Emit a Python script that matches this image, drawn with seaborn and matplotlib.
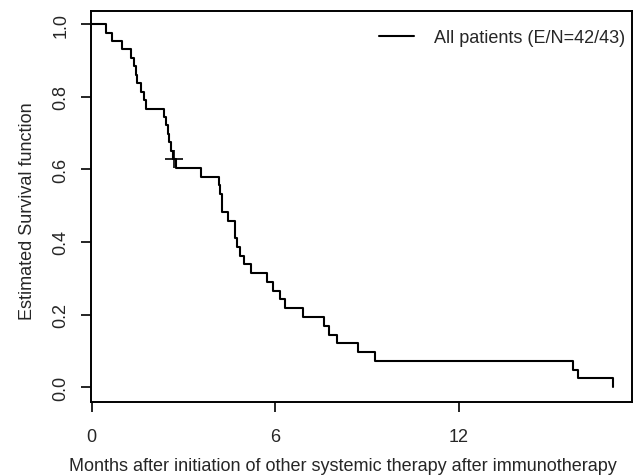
import numpy as np
import pandas as pd
import matplotlib
matplotlib.use("Agg")
import matplotlib.pyplot as plt
import seaborn as sns

# months from start of next systemic therapy; status 1 = event, 0 = censored
months = [0.46, 0.67, 1.00, 1.28, 1.37, 1.44, 1.47, 1.60, 1.70, 1.77,
          2.35, 2.43, 2.48, 2.54, 2.59, 2.65, 2.70, 2.76, 3.59,
          4.16, 4.21, 4.25, 4.27, 4.46, 4.68, 4.70, 4.76, 4.85, 4.98,
          5.20, 5.72, 5.94, 6.16, 6.31, 6.92, 7.60, 7.76, 8.02, 8.71,
          9.26, 15.74, 15.90, 17.05]
status = [1, 1, 1, 1, 1, 1, 1, 1, 1, 1,
          1, 1, 1, 1, 1, 1, 0, 1, 1,
          1, 1, 1, 1, 1, 1, 1, 1, 1, 1,
          1, 1, 1, 1, 1, 1, 1, 1, 1, 1,
          1, 1, 1, 1]

legend_label = "All patients (E/N=42/43)"
x_ticks = [0, 6, 12]
y_ticks = [0.0, 0.2, 0.4, 0.6, 0.8, 1.0]


def kaplan_meier(t, d):
    t = np.asarray(t, dtype=float)
    d = np.asarray(d, dtype=int)
    order = np.argsort(t, kind="stable")
    t, d = t[order], d[order]
    n = len(t)
    s = 1.0
    step_t, step_s = [0.0], [1.0]
    cens_t, cens_s = [], []
    for ti, di in zip(t, d):
        if di == 1:
            s *= (n - 1) / n
            step_t.append(ti)
            step_s.append(s)
        else:
            cens_t.append(ti)
            cens_s.append(s)
        n -= 1
    return (pd.DataFrame({"time": step_t, "surv": step_s}),
            pd.DataFrame({"time": cens_t, "surv": cens_s}))


def main():
    sns.set_style("ticks")
    plt.rcParams["font.family"] = ["Liberation Sans", "DejaVu Sans"]

    steps, censored = kaplan_meier(months, status)

    fig = plt.figure(figsize=(6.33, 4.77), dpi=100)
    ax = fig.add_axes([0.1438, 0.1551, 0.8546, 0.8197])

    sns.lineplot(data=steps, x="time", y="surv", drawstyle="steps-post",
                 color="black", linewidth=1.5, estimator=None, sort=False,
                 label=legend_label, ax=ax)
    sns.scatterplot(data=censored, x="time", y="surv", marker="+", s=180,
                    color="black", linewidth=1.2, ax=ax, legend=False)

    ax.set_xlim(-0.02, 17.66)
    ax.set_ylim(-0.041, 1.036)
    ax.set_xticks(x_ticks)
    ax.set_yticks(y_ticks)
    ax.set_yticklabels([f"{v:.1f}" for v in y_ticks], rotation=90, va="center")
    ax.tick_params(length=7.5, width=1.2, labelsize=13, color="black")
    ax.tick_params(axis="x", pad=11)
    ax.tick_params(axis="y", pad=8)
    for sp in ax.spines.values():
        sp.set_visible(True)
        sp.set_linewidth(1.4)
        sp.set_color("black")

    ax.set_xlabel("Months after initiation of other systemic therapy after immunotherapy",
                  fontsize=13)
    ax.set_ylabel("Estimated Survival function", fontsize=13)
    ax.xaxis.set_label_coords(0.465, -0.141)
    ax.yaxis.set_label_coords(-0.101, 0.49)

    ax.legend(frameon=False, loc="upper right", bbox_to_anchor=(1.008, 0.982),
              fontsize=13, handlelength=1.95, handletextpad=1.1,
              borderpad=0.3, borderaxespad=0.3)

    fig.savefig("out.png", dpi=100)


if __name__ == "__main__":
    main()
